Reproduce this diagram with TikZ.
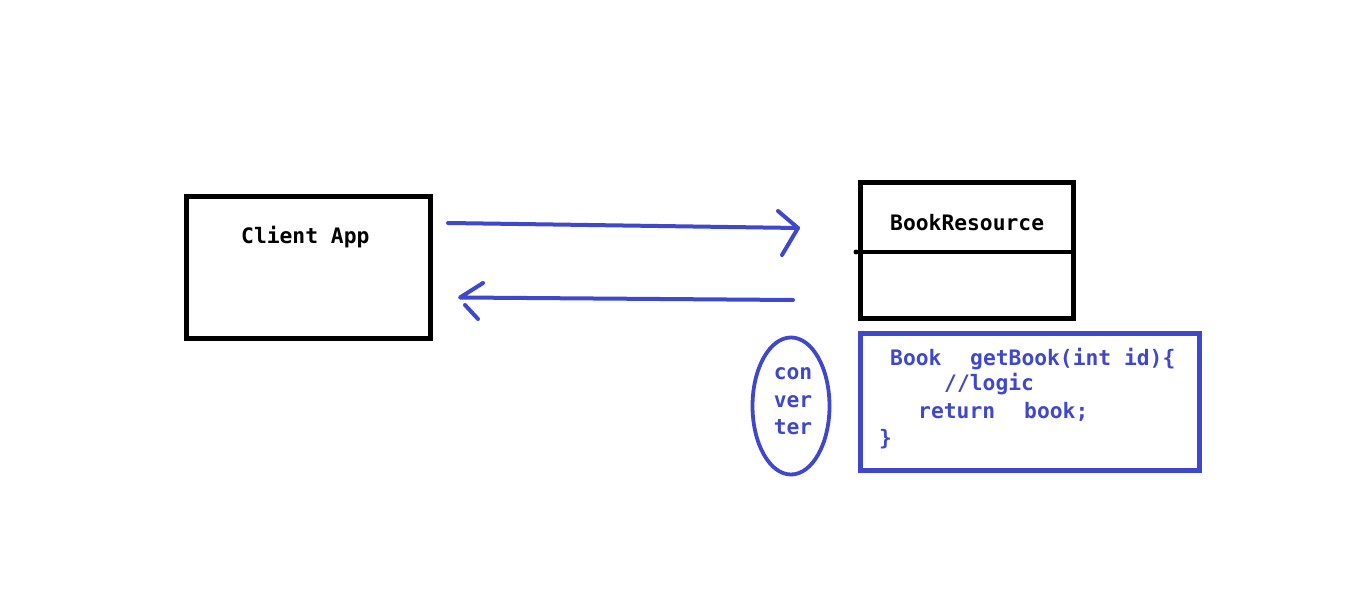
\documentclass[tikz,border=0pt]{standalone}
\usepackage{fontspec}
\setmonofont{DejaVu Sans Mono}
\definecolor{pblue}{RGB}{63,72,204}
\tikzset{
  blk/.style={draw=black, line width=5pt},
  blu/.style={draw=pblue, line width=4.5pt},
  arr/.style={draw=pblue, line width=4pt, line cap=round, line join=round},
  lbl/.style={inner sep=0pt, anchor=base west, font=\ttfamily\bfseries\fontsize{21.3}{24}\selectfont},
  code/.style={lbl, text=pblue},
}
\begin{document}
\begin{tikzpicture}[x=1pt,y=-1pt]
\useasboundingbox (0,0) rectangle (1360,593);
% boxes
\draw[blk] (186.5,196.5) rectangle (430.5,338.5);
\node[lbl] (client) at (241,244) {Client App};
\draw[blk] (860.5,182.5) rectangle (1073.5,318.5);
\coordinate (divl) at (856,252);
\coordinate (divr) at (1073.5,252);
\draw[black, line width=4pt] (divl) -- (divr);
\fill (divl) circle (2.5);
\node[lbl] (bookres) at (890,231) {BookResource};
\draw[blu] (860.5,333.5) rectangle (1199.5,470.5);
\node[code] (l1a) at (890,366) {Book};
\node[code] (l1b) at (970,366) {getBook(int id)\{};
\node[code] (l2) at (944,391) {//logic};
\node[code] (l3a) at (918,418) {return};
\node[code] (l3b) at (1024,418) {book;};
\node[code] (l4) at (879,445) {\}};
% converter
\draw[draw=pblue, line width=3.8pt] (791,406) ellipse (38.5 and 68.5);
\node[code, anchor=base] (c1) at (793,380) {con};
\node[code, anchor=base] (c2) at (793,407) {ver};
\node[code, anchor=base] (c3) at (793,435) {ter};
% arrows
\coordinate (a1s) at (448,223);
\coordinate (a1e) at (798,228);
\coordinate (a1u) at (778,211);
\coordinate (a1d) at (782,255);
\draw[arr] (a1s) -- (a1e);
\draw[arr] (a1u) -- (a1e) -- (a1d);
\coordinate (a2s) at (793,300);
\coordinate (a2e) at (460,297.5);
\coordinate (a2u) at (483,283);
\coordinate (a2d1) at (465,305);
\coordinate (a2d2) at (478,319);
\draw[arr] (a2s) -- (a2e) -- (a2u);
\draw[arr] (a2d1) -- (a2d2);
\end{tikzpicture}
\end{document}
